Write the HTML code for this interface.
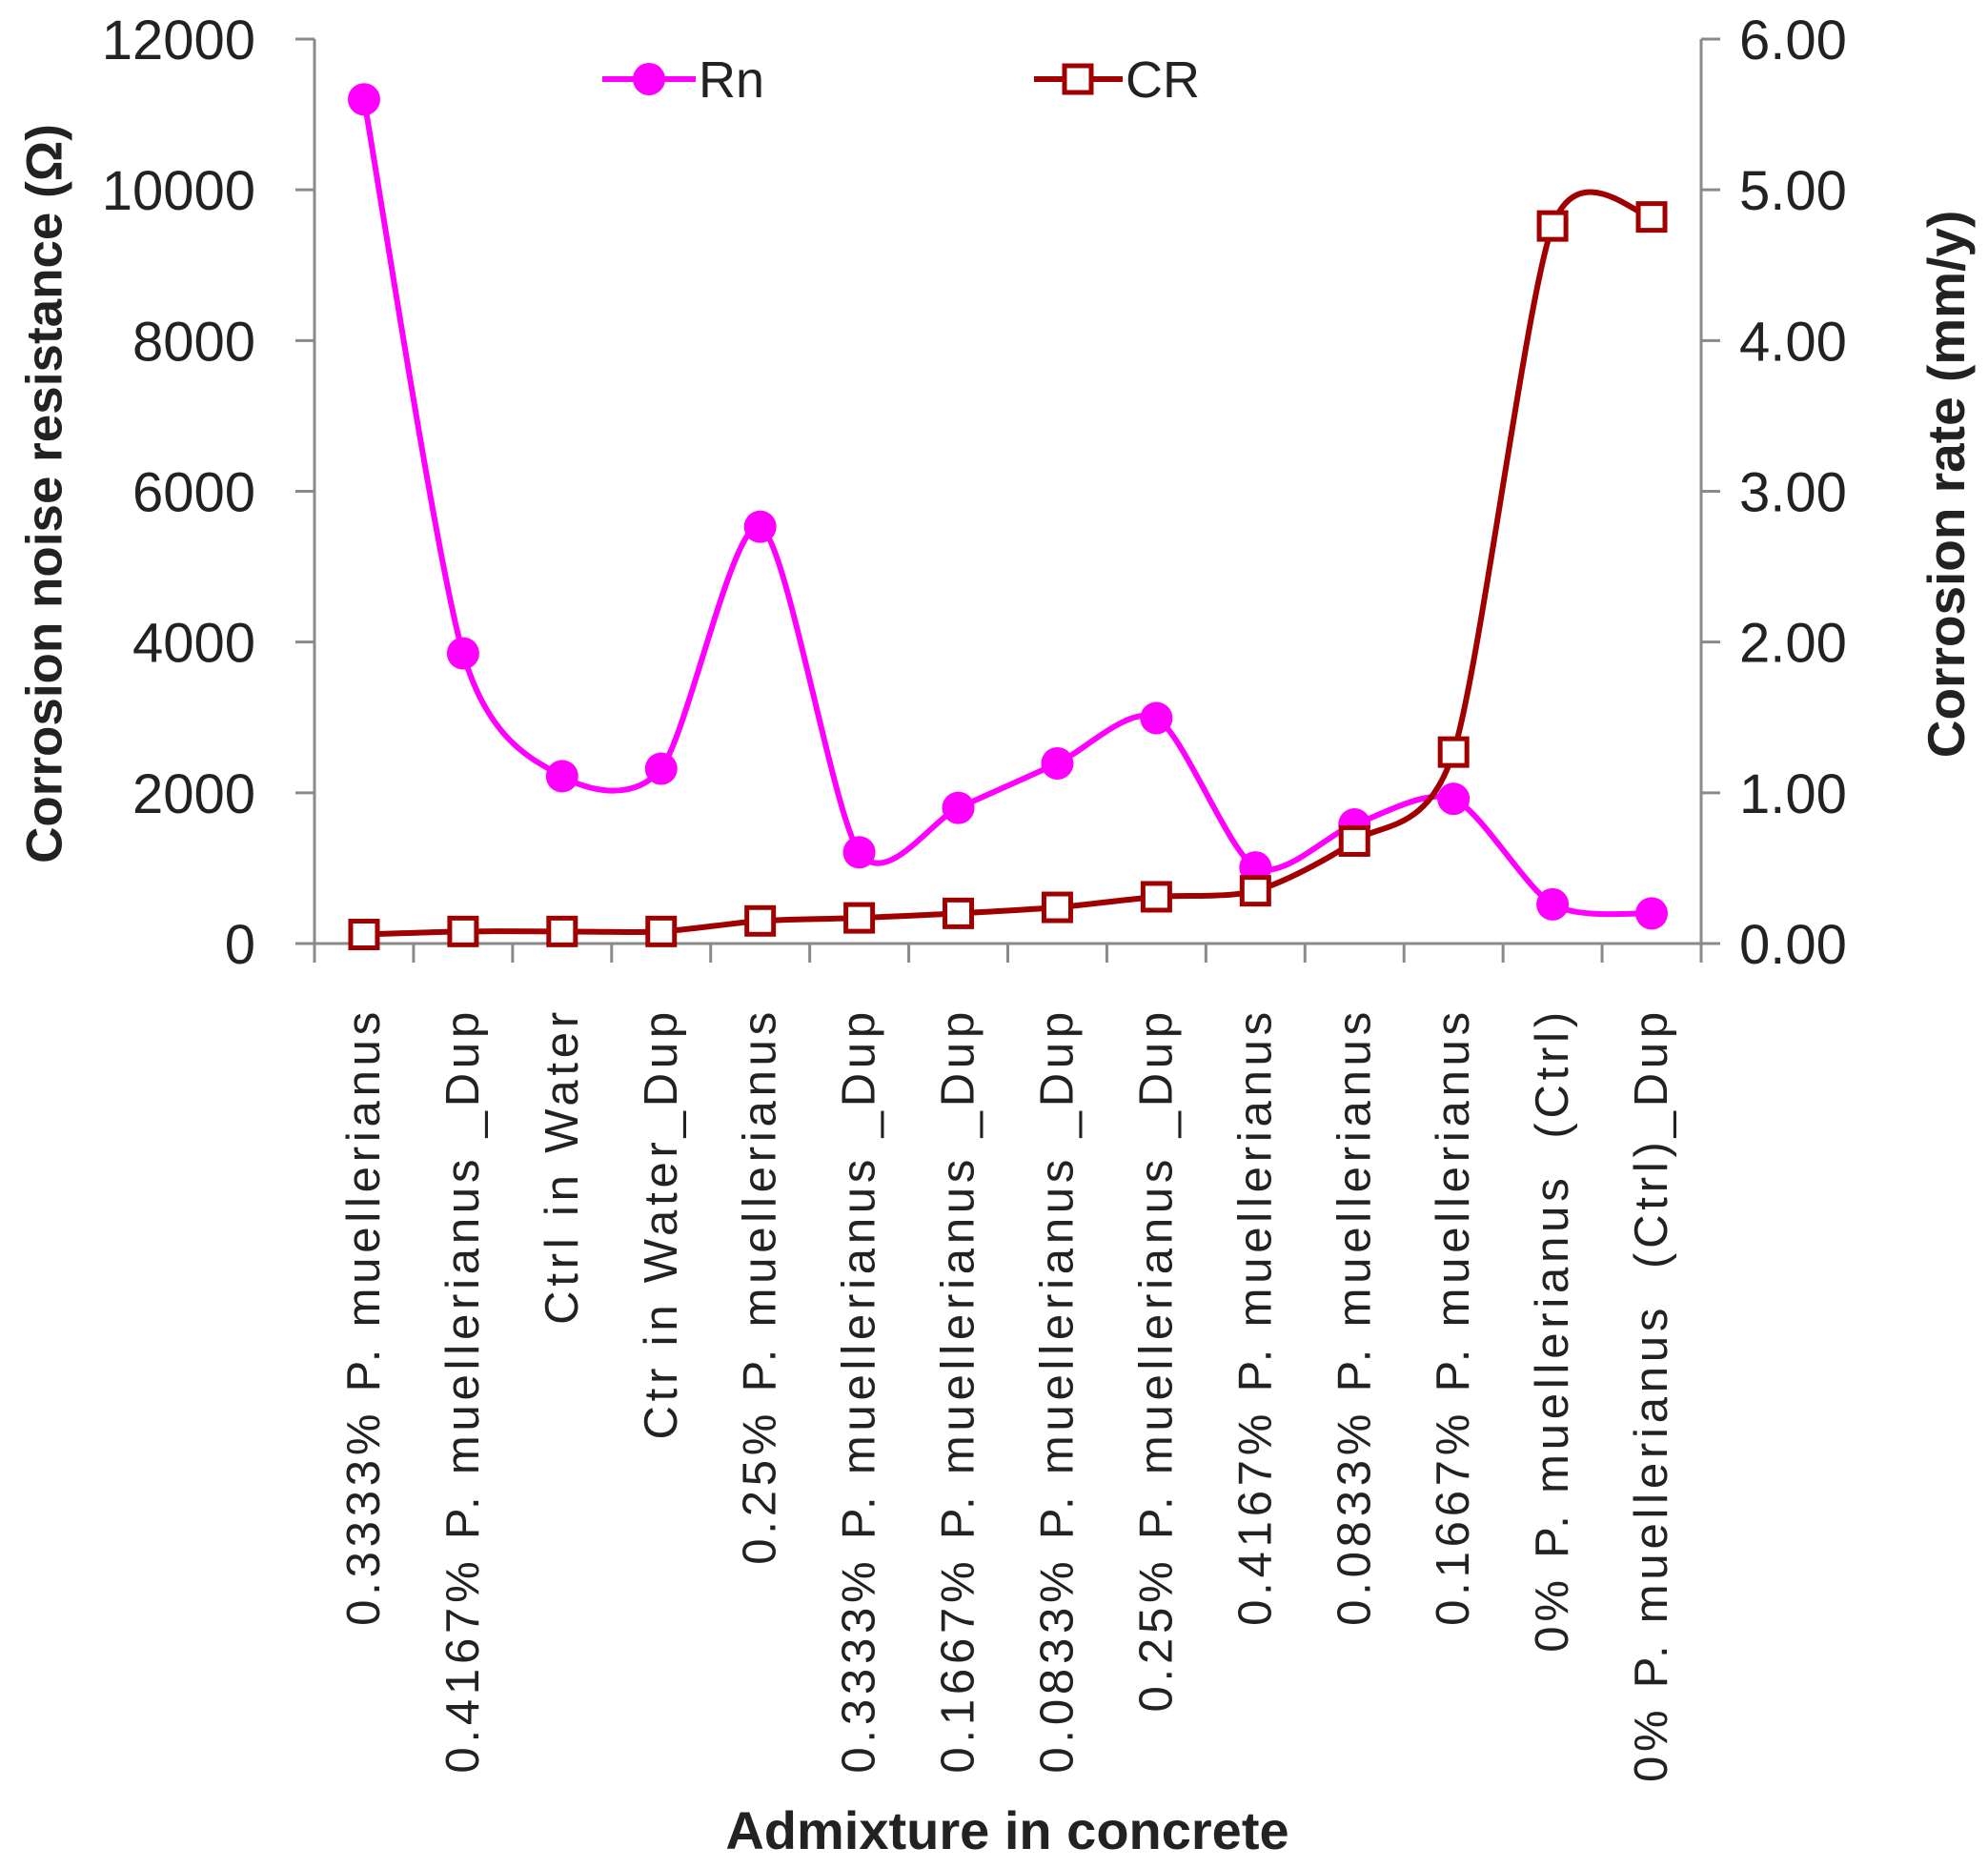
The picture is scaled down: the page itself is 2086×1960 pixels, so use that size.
<!DOCTYPE html>
<html><head><meta charset="utf-8"><style>
html,body{margin:0;padding:0;background:#fff;}
svg{display:block;font-family:"Liberation Sans",sans-serif;}
</style></head><body>
<svg id="chart" width="2086" height="1960" viewBox="0 0 2086 1960">
<g id="axes"></g>
<g id="series"></g>
<g>
  <g>
    <line x1="632" y1="83" x2="730" y2="83" stroke="#ff00ff" stroke-width="6"/>
    <circle cx="681" cy="83" r="17" fill="#ff00ff"/>
    <text x="733" y="102" font-size="54" fill="#222">Rn</text>
  </g>
  <g>
    <line x1="1085" y1="83" x2="1178" y2="83" stroke="#a00000" stroke-width="6"/>
    <rect x="1117" y="69" width="28" height="28" fill="#fff" stroke="#a00000" stroke-width="5"/>
    <text x="1181" y="102" font-size="54" fill="#222">CR</text>
  </g>
</g>
<text x="47" y="518" transform="rotate(-90 47 518)" text-anchor="middle" dominant-baseline="central" font-size="53" font-weight="bold" fill="#222">Corrosion noise resistance (Ω)</text>
<text x="2042" y="508" transform="rotate(-90 2042 508)" text-anchor="middle" dominant-baseline="central" font-size="55" font-weight="bold" fill="#222">Corrosion rate (mm/y)</text>
<text x="1057" y="1940" text-anchor="middle" font-size="56" font-weight="bold" fill="#222">Admixture in concrete</text>
</svg>
<script>
const categories = ["0.3333% P. muellerianus","0.4167% P. muellerianus _Dup","Ctrl in Water","Ctr in Water_Dup","0.25% P. muellerianus","0.3333% P. muellerianus _Dup","0.1667% P. muellerianus _Dup","0.0833% P. muellerianus _Dup","0.25% P. muellerianus _Dup","0.4167% P. muellerianus","0.0833% P. muellerianus","0.1667% P. muellerianus","0% P. muellerianus\u00a0\u00a0(Ctrl)","0% P. muellerianus\u00a0\u00a0(Ctrl)_Dup"];
const rnValues = [11200,3850,2220,2320,5530,1210,1800,2390,2990,1010,1580,1920,520,400];
const crValues = [0.06,0.08,0.08,0.08,0.15,0.17,0.20,0.24,0.31,0.35,0.68,1.27,4.76,4.82];
const leftTicks = [0,2000,4000,6000,8000,10000,12000];
const rightTicks = ["0.00","1.00","2.00","3.00","4.00","5.00","6.00"];

const NS="http://www.w3.org/2000/svg";
const X0=330,X1=1785,Y0=990,Y1=41;
const band=(X1-X0)/categories.length;
const xPos=i=>X0+band*(i+0.5);
const yLeft=v=>Y0-(v/12000)*(Y0-Y1);
const yRight=v=>Y0-(v/6)*(Y0-Y1);
function mk(tag,attrs,parent){const e=document.createElementNS(NS,tag);for(const k in attrs)e.setAttribute(k,attrs[k]);parent.appendChild(e);return e;}
const axes=document.getElementById('axes'), series=document.getElementById('series');
const ac="#8a8a8a";
let e;
e=mk('line',{x1:X0,y1:Y1,x2:X0,y2:Y0,stroke:ac,'stroke-width':3},axes);


e=mk('line',{x1:X1,y1:Y1,x2:X1,y2:Y0+20,stroke:ac,'stroke-width':3},axes);


e=mk('line',{x1:X0-20,y1:Y0,x2:X1+20,y2:Y0,stroke:ac,'stroke-width':3},axes);


leftTicks.forEach(v=>{const y=yLeft(v);
  mk('line',{x1:X0-20,y1:y,x2:X0,y2:y,stroke:ac,'stroke-width':3},axes);
  const t=mk('text',{x:268,y:y+21,'text-anchor':'end','font-size':58,fill:'#222'},axes);t.textContent=v;
  
  
});
rightTicks.forEach(s=>{const y=yRight(parseFloat(s));
  mk('line',{x1:X1,y1:y,x2:X1+20,y2:y,stroke:ac,'stroke-width':3},axes);
  const t=mk('text',{x:1825,y:y+21,'font-size':58,fill:'#222'},axes);t.textContent=s;
  
  
});
for(let i=0;i<=categories.length;i++){const x=X0+band*i;mk('line',{x1:x,y1:Y0,x2:x,y2:Y0+20,stroke:ac,'stroke-width':3},axes);}
categories.forEach((c,i)=>{const x=xPos(i);
  const t=mk('text',{x:x,y:1057,transform:`rotate(-90 ${x} 1057)`,'text-anchor':'end','dominant-baseline':'central','font-size':49,'letter-spacing':4.8,fill:'#222'},axes);t.textContent=c;
  
  
});
function smooth(pts){let d=`M${pts[0][0]},${pts[0][1]}`;const k=7.5;
  for(let i=0;i<pts.length-1;i++){const p0=pts[i-1]||pts[i],p1=pts[i],p2=pts[i+1],p3=pts[i+2]||p2;
    const c1=[p1[0]+(p2[0]-p0[0])/k,p1[1]+(p2[1]-p0[1])/k],c2=[p2[0]-(p3[0]-p1[0])/k,p2[1]-(p3[1]-p1[1])/k];
    d+=` C${c1[0]},${c1[1]} ${c2[0]},${c2[1]} ${p2[0]},${p2[1]}`;}return d;}
const rnPts=rnValues.map((v,i)=>[xPos(i),yLeft(v)]);
const crPts=crValues.map((v,i)=>[xPos(i),yRight(v)]);
e=mk('path',{d:smooth(rnPts),fill:'none',stroke:'#ff00ff','stroke-width':6},series);


rnPts.forEach(p=>{const c=mk('circle',{cx:p[0],cy:p[1],r:17,fill:'#ff00ff'},series);
  
  
});
e=mk('path',{d:smooth(crPts),fill:'none',stroke:'#a00000','stroke-width':6},series);


crPts.forEach(p=>{const r=mk('rect',{x:p[0]-14,y:p[1]-14,width:28,height:28,fill:'#fff',stroke:'#a00000','stroke-width':5},series);
  
  
});
</script>
</body></html>
